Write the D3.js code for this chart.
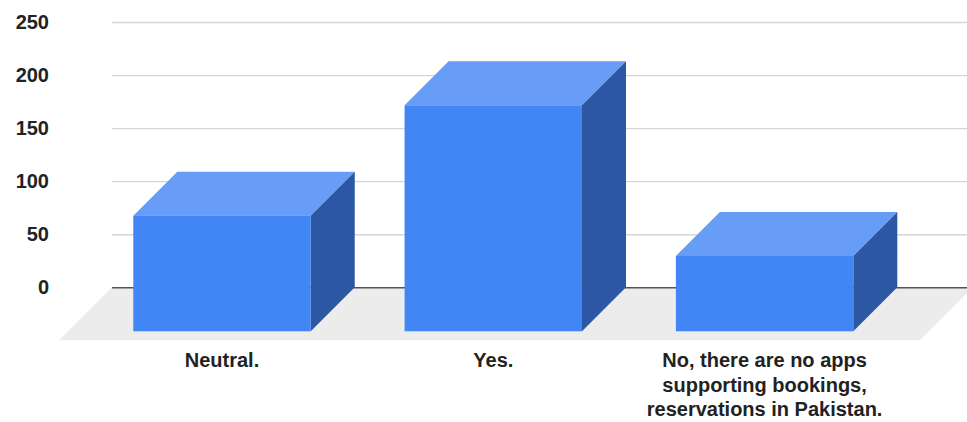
<!DOCTYPE html>
<html>
<head>
<meta charset="utf-8">
<script src="https://cdn.jsdelivr.net/npm/d3@7"></script>
<style>
  html, body { margin: 0; padding: 0; background: #fff; }
  svg { display: block; }
  text { font-family: "Liberation Sans", Arial, sans-serif; font-weight: bold; fill: #222; }
</style>
</head>
<body>
<svg id="chart" width="967" height="422"></svg>
<script>
// Survey answers and response counts
const categories = [
  "Neutral.",
  "Yes.",
  "No, there are no apps supporting bookings, reservations in Pakistan."
];
const counts = [109, 213, 71];
const yTicks = [0, 50, 100, 150, 200, 250];

const svg = d3.select("#chart");
const W = 967;

// back wall extent and 3D depth offsets
const wallLeft = 112, wallRight = 973;
const floorDepth = 53;   // depth of the floor slab
const barDepth = 44;     // depth of each column

const y = d3.scaleLinear().domain([0, 250]).range([287.3, 22]);

// band scale for the front faces of the columns
const x = d3.scaleBand()
  .domain(categories)
  .range([133.3, 853.3])
  .paddingInner(0.346)
  .paddingOuter(0);

const colors = { front: "#4285f4", top: "#679df6", side: "#2b57a3", floor: "#ececec" };

// floor slab
const y0 = y(0);
svg.append("polygon")
  .attr("points", [
    [wallLeft, y0], [wallRight, y0],
    [wallRight - floorDepth, y0 + floorDepth], [wallLeft - floorDepth, y0 + floorDepth]
  ].map(p => p.join(",")).join(" "))
  .attr("fill", colors.floor);

// gridlines and value labels on the back wall
const yAxis = svg.append("g")
  .attr("transform", `translate(${wallLeft},0)`)
  .call(d3.axisLeft(y).tickValues(yTicks).tickSize(-(W - wallLeft)).tickPadding(63).tickFormat(d3.format("d")));
yAxis.select(".domain").remove();
yAxis.selectAll(".tick line")
  .attr("stroke", d => d === 0 ? "#555" : "#d6d6d6")
  .attr("stroke-width", d => d === 0 ? 1.6 : 1.3);
yAxis.selectAll(".tick text")
  .style("font-size", "20px")
  .style("font-family", "'Liberation Sans', Arial, sans-serif")
  .style("font-weight", "bold")
  .attr("fill", "#222");

// columns: front face, top face, right side face
const bars = svg.append("g").selectAll("g")
  .data(categories.map((c, i) => ({ c, v: counts[i] })))
  .join("g");

bars.each(function(d) {
  const g = d3.select(this);
  const x0 = x(d.c), x1 = x0 + x.bandwidth();
  const base = y(0) + barDepth;
  const top = y(d.v) + barDepth;
  const pts = a => a.map(p => p.join(",")).join(" ");
  g.append("polygon")
    .attr("points", pts([[x0, top], [x0 + barDepth, top - barDepth], [x1 + barDepth, top - barDepth], [x1, top]]))
    .attr("fill", colors.top);
  g.append("polygon")
    .attr("points", pts([[x1, top], [x1 + barDepth, top - barDepth], [x1 + barDepth, base - barDepth], [x1, base]]))
    .attr("fill", colors.side);
  g.append("rect")
    .attr("x", x0).attr("y", top)
    .attr("width", x1 - x0).attr("height", base - top)
    .attr("fill", colors.front);
});

// category labels, wrapped under each column
const labelWidth = 262;
const labels = svg.append("g").selectAll("text")
  .data(categories)
  .join("text")
  .attr("text-anchor", "middle")
  .style("font-size", "20px")
  .attr("x", d => x(d) + x.bandwidth() / 2)
  .attr("y", 367.3);

labels.each(function(d) {
  const t = d3.select(this);
  const words = d.split(" ");
  let lines = [], line = [];
  const probe = t.append("tspan");
  words.forEach(w => {
    const trial = line.concat(w).join(" ");
    probe.text(trial);
    if (probe.node().getComputedTextLength() > labelWidth && line.length) {
      lines.push(line.join(" "));
      line = [w];
    } else {
      line.push(w);
    }
  });
  lines.push(line.join(" "));
  probe.remove();
  const cx = t.attr("x");
  lines.forEach((l, i) => {
    t.append("tspan").attr("x", cx).attr("dy", i === 0 ? 0 : 24.4).text(l);
  });
});
</script>
</body>
</html>
